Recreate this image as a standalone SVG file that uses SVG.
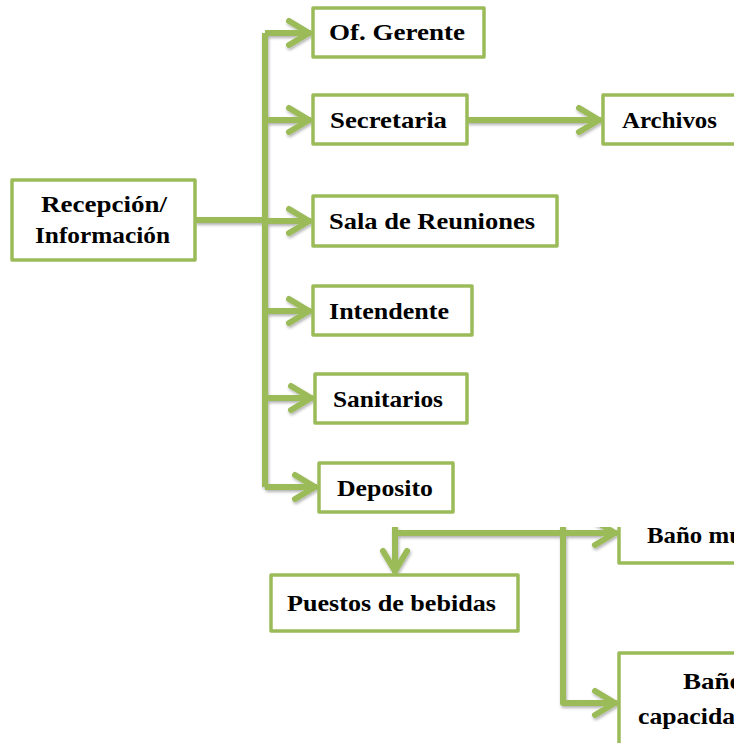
<svg xmlns="http://www.w3.org/2000/svg" width="734" height="743" viewBox="0 0 734 743">
<defs>
<filter id="sh" x="-10%" y="-10%" width="120%" height="130%">
<feDropShadow dx="1" dy="2" stdDeviation="1.5" flood-color="#000" flood-opacity="0.3"/>
</filter>
<marker id="ah" markerUnits="userSpaceOnUse" markerWidth="30" markerHeight="30" viewBox="-26 -15 30 30" refX="0" refY="0" orient="auto" overflow="visible">
<path d="M-22,-12 L-2,0 L-22,12" fill="none" stroke="#9BBB59" stroke-width="6" stroke-linecap="round" stroke-linejoin="round"/>
</marker>
</defs>
<style>
.box{fill:#fff;stroke:#9BBB59;stroke-width:3.5;stroke-linejoin:round}
.ln{fill:none;stroke:#9BBB59;stroke-width:6;stroke-linejoin:round}
.t{font-family:"Liberation Serif","Times New Roman",serif;font-weight:bold;font-size:24px;fill:#000}
</style>
<rect width="734" height="743" fill="#fff"/>
<g id="connectors" filter="url(#sh)">
<path class="ln" d="M195,220 H265"/>
<path class="ln" d="M265,33 V487"/>
<path class="ln" d="M265,33 H311" marker-end="url(#ah)"/>
<path class="ln" d="M265,120 H311" marker-end="url(#ah)"/>
<path class="ln" d="M265,221 H311" marker-end="url(#ah)"/>
<path class="ln" d="M265,311 H311" marker-end="url(#ah)"/>
<path class="ln" d="M265,398 H313" marker-end="url(#ah)"/>
<path class="ln" d="M265,487 H317" marker-end="url(#ah)"/>
<path class="ln" d="M467,120 H601" marker-end="url(#ah)"/>
<path class="ln" d="M395,527 V573" marker-end="url(#ah)"/>
<path class="ln" d="M395,533 H617" marker-end="url(#ah)"/>
<path class="ln" d="M563,527 V703 H617" marker-end="url(#ah)"/>
</g>
<g id="recepcion"><rect class="box" x="12" y="180" width="183" height="80"/>
<text class="t" x="41" y="212" textLength="126" lengthAdjust="spacingAndGlyphs">Recepción/</text>
<text class="t" x="35" y="243" textLength="135" lengthAdjust="spacingAndGlyphs">Información</text></g>
<g id="gerente"><rect class="box" x="313" y="8" width="171" height="49"/>
<text class="t" x="329" y="40" textLength="136" lengthAdjust="spacingAndGlyphs">Of. Gerente</text></g>
<g id="secretaria"><rect class="box" x="313" y="95" width="154" height="49"/>
<text class="t" x="330" y="128" textLength="117" lengthAdjust="spacingAndGlyphs">Secretaria</text></g>
<g id="archivos"><rect class="box" x="603" y="95" width="140" height="49"/>
<text class="t" x="622" y="128" textLength="95" lengthAdjust="spacingAndGlyphs">Archivos</text></g>
<g id="sala"><rect class="box" x="313" y="196" width="244" height="50"/>
<text class="t" x="329" y="229" textLength="206" lengthAdjust="spacingAndGlyphs">Sala de Reuniones</text></g>
<g id="intendente"><rect class="box" x="313" y="286" width="159" height="49"/>
<text class="t" x="329" y="319" textLength="120" lengthAdjust="spacingAndGlyphs">Intendente</text></g>
<g id="sanitarios"><rect class="box" x="315" y="374" width="152" height="49"/>
<text class="t" x="333" y="407" textLength="110" lengthAdjust="spacingAndGlyphs">Sanitarios</text></g>
<g id="deposito"><rect class="box" x="319" y="463" width="134" height="49"/>
<text class="t" x="337" y="496" textLength="96" lengthAdjust="spacingAndGlyphs">Deposito</text></g>
<g id="bano-mu"><path class="box" d="M619,527 V563 H740"/>
<text class="t" x="647" y="543" textLength="96" lengthAdjust="spacingAndGlyphs">Baño mu</text></g>
<g id="puestos"><rect class="box" x="271" y="575" width="247" height="56"/>
<text class="t" x="287" y="611" textLength="209" lengthAdjust="spacingAndGlyphs">Puestos de bebidas</text></g>
<g id="bano-cap"><rect class="box" x="619" y="653" width="130" height="100"/>
<text class="t" x="683" y="689" textLength="60" lengthAdjust="spacingAndGlyphs">Baño</text>
<text class="t" x="638" y="724" textLength="97" lengthAdjust="spacingAndGlyphs">capacida</text></g>
<rect x="0" y="516" width="734" height="11" fill="#fff"/>
</svg>
